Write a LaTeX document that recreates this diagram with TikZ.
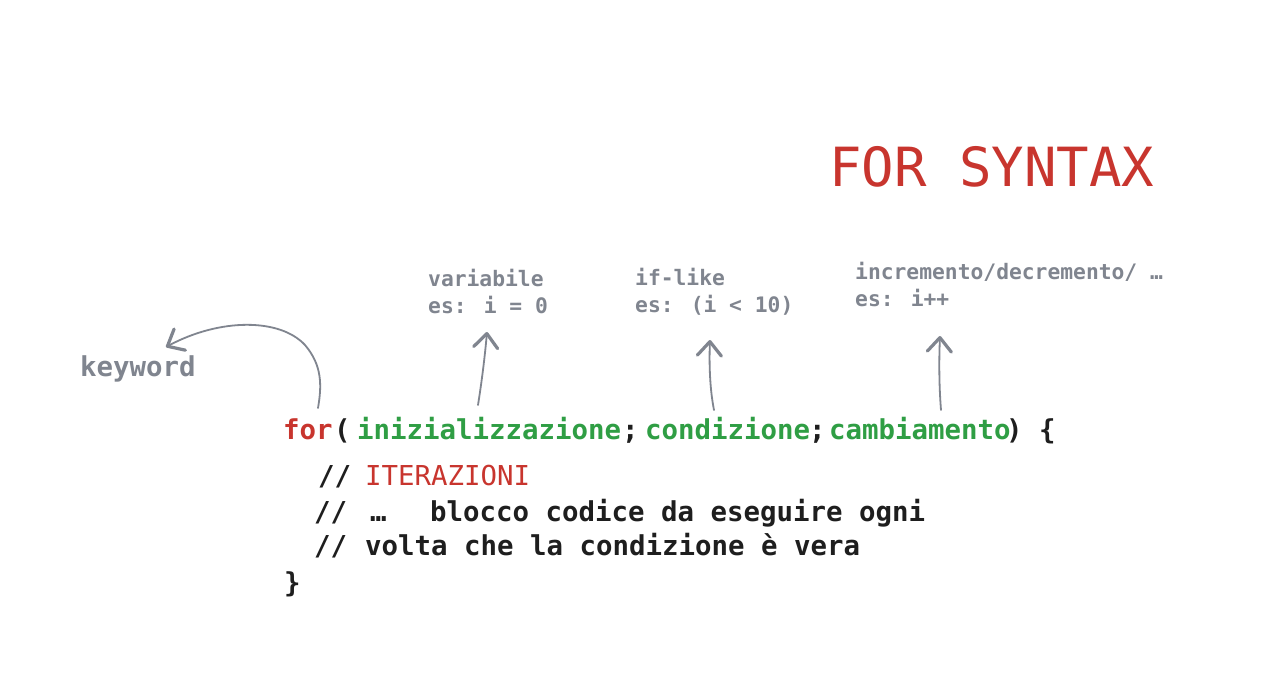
\documentclass[tikz,border=0pt]{standalone}
\usepackage{fontspec}
\newfontfamily\codefont{DejaVu Sans Mono}
\usetikzlibrary{arrows.meta}
\definecolor{cred}{HTML}{C8352E}
\definecolor{cgreen}{HTML}{2F9E44}
\definecolor{cblack}{HTML}{1E1E1E}
\definecolor{cgray}{HTML}{80858F}
\begin{document}
\begin{tikzpicture}[x=1pt,y=-1pt,
  every node/.style={inner sep=0pt, anchor=base west},
  code/.style={font=\codefont\bfseries\fontsize{27.4}{30}\selectfont, text=cblack},
  red/.style={code, text=cred},
  redreg/.style={font=\codefont\fontsize{27.4}{30}\selectfont, text=cred},
  grn/.style={code, text=cgreen},
  note/.style={font=\codefont\bfseries\fontsize{21.3}{26}\selectfont, text=cgray, align=left},
  ttl/.style={font=\codefont\fontsize{54}{60}\selectfont, text=cred},
  arr/.style={draw=cgray, line width=1.8pt, line cap=round, line join=round,
    -{Straight Barb[length=14pt, width=24pt, line width=3.2pt 0, round]}}]
\useasboundingbox[fill=white] (0,0) rectangle (1286,681);

\node[ttl] (title) at (829,186) {FOR SYNTAX};

\node[code, text=cgray] (kw) at (80,376) {keyword};

\node[note] (var1) at (428,286) {variabile};
\node[note] (var2) at (428,313) {es: i = 0};
\node[note] (if1) at (635,285) {if-like};
\node[note] (if2) at (635,312) {es: (i < 10)};
\node[note] (inc1) at (855,279) {incremento/decremento/ …};
\node[note] (inc2) at (855,306) {es: i++};

\node[red] (for) at (283,439) {for};
\node[code] (lp) at (334,439) {(};
\node[grn] (init) at (357,439) {inizializzazione};
\node[code] (s1) at (622,439) {;};
\node[grn] (cond) at (645,439) {condizione};
\node[code] (s2) at (809,439) {;};
\node[grn] (camb) at (829,439) {cambiamento};
\node[code] (rp) at (1006,439) {) \{};

\node[code] (c1a) at (318,485) {//};
\node[redreg] (c1b) at (365,485) {ITERAZIONI};
\node[code] (c2a) at (314,521) {//};
\node[code] (c2b) at (370,521) {…};
\node[code] (c2c) at (430,521) {blocco codice da eseguire ogni};
\node[code] (c3a) at (314,555) {//};
\node[code] (c3b) at (365,555) {volta che la condizione è vera};
\node[code] (rb) at (284,592) {\}};

\coordinate (kwS) at (318,408);
\coordinate (kwE) at (166,347);
\coordinate (varS) at (478,405);
\coordinate (varE) at (487,332);
\coordinate (condS) at (714,410);
\coordinate (condE) at (710,340);
\coordinate (cambS) at (941,410);
\coordinate (cambE) at (940,336);

\draw[arr] (kwS) .. controls (322,385) and (322,365) .. (305,345)
  .. controls (280,318) and (220,318) .. (kwE);
\draw[arr] (varS) .. controls (482,380) and (485,355) .. (varE);
\draw[arr] (condS) .. controls (710,390) and (709,365) .. (condE);
\draw[arr] (cambS) .. controls (939,385) and (939,360) .. (cambE);
\end{tikzpicture}
\end{document}
